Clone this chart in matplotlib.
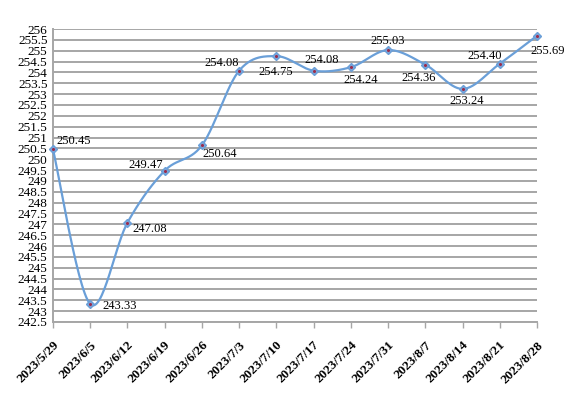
import numpy as np
import matplotlib
matplotlib.use("Agg")
import matplotlib.pyplot as plt
from matplotlib.transforms import ScaledTranslation

dates = ["2023/5/29", "2023/6/5", "2023/6/12", "2023/6/19", "2023/6/26", "2023/7/3",
         "2023/7/10", "2023/7/17", "2023/7/24", "2023/7/31", "2023/8/7", "2023/8/14",
         "2023/8/21", "2023/8/28"]
values = [250.45, 243.33, 247.08, 249.47, 250.64, 254.08, 254.75, 254.08, 254.24,
          255.03, 254.36, 253.24, 254.40, 255.69]
label_offsets = [(21, 8), (29, -2), (22, -6), (-19, 6), (18, -9), (-17, 8), (-1, -16),
                 (8, 11), (10, -13), (0, 9), (-7, -13), (4, -12), (-15, 8), (11, -15)]
yticks = np.arange(242.5, 256.01, 0.5)

plt.rcParams['font.family'] = ['Liberation Serif', 'DejaVu Serif']

fig = plt.figure(figsize=(5.75, 3.99), dpi=100)
ax = fig.add_axes([53/575, 1-322/399, (537-53)/575, (322-29)/399])

x = np.arange(len(values))
y = np.array(values, dtype=float)

# Catmull-Rom smoothing (Excel-like smoothed line)
P = np.column_stack([x, y]).astype(float)
Pext = np.vstack([P[0], P, P[-1]])
xs, ys = [], []
t = np.linspace(0, 1, 30)
for i in range(len(P) - 1):
    p0, p1, p2, p3 = Pext[i], Pext[i+1], Pext[i+2], Pext[i+3]
    c1 = p1 + (p2 - p0) / 6
    c2 = p2 - (p3 - p1) / 6
    b = ((1-t)**3)[:, None]*p1 + (3*(1-t)**2*t)[:, None]*c1 + (3*(1-t)*t**2)[:, None]*c2 + (t**3)[:, None]*p2
    xs.extend(b[:, 0]); ys.extend(b[:, 1])

ax.plot(xs, ys, color='#6a9fd8', lw=1.6, zorder=3, clip_on=False)
ax.plot(x, y, linestyle='none', marker='D', ms=4.5, mfc='#7fa6d8', mec='#6a9fd8', zorder=4, clip_on=False)
ax.plot(x, y, linestyle='none', marker='o', ms=2.2, mfc='#9b2c4c', mec='none', zorder=5, clip_on=False)

for xi, yi, (dx, dy) in zip(x, y, label_offsets):
    ax.annotate(f"{yi:.2f}", (xi, yi), xytext=(dx, dy), textcoords='offset pixels',
                ha='center', va='center', fontsize=9, color='black')

ax.set_xlim(0, len(values) - 1)
ax.set_ylim(242.5, 256)
ax.set_yticks(yticks)
ax.set_yticklabels([f"{v:g}" for v in yticks], fontsize=9.5)
ax.yaxis.grid(True, color='#a6a6a6', lw=1.4)
ax.set_axisbelow(True)
ax.tick_params(axis='y', length=0, pad=4)
ax.tick_params(axis='x', length=4, color='#a6a6a6', width=1, pad=2)
ax.set_xticks(x)
ax.set_xticklabels(dates, rotation=45, ha='right', va='center', rotation_mode='anchor',
                   fontsize=9.5, fontweight='bold')
for lbl in ax.get_xticklabels():
    lbl.set_transform(lbl.get_transform() + ScaledTranslation(4/100, -13/100, fig.dpi_scale_trans))

for s in ['top', 'right']:
    ax.spines[s].set_visible(False)
for s in ['left', 'bottom']:
    ax.spines[s].set_color('#a6a6a6')
    ax.spines[s].set_linewidth(1.4)

fig.savefig('out.png', dpi=100)
